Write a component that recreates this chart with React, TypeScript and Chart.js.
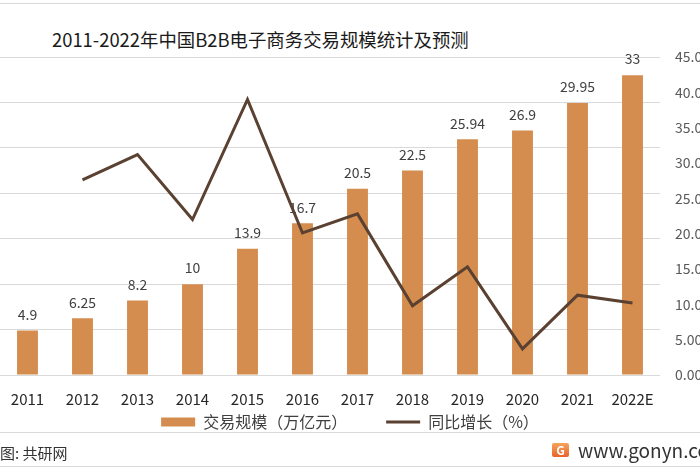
import { useEffect, useRef } from 'react';
import { Chart, registerables } from 'chart.js';

Chart.register(...registerables);

const years = ['2011', '2012', '2013', '2014', '2015', '2016', '2017', '2018', '2019', '2020', '2021', '2022E'];
const tradeScale = [4.9, 6.25, 8.2, 10, 13.9, 16.7, 20.5, 22.5, 25.94, 26.9, 29.95, 33];
const growthRate = [null, 27.6, 31.2, 22.0, 39.0, 20.1, 22.8, 9.8, 15.3, 3.7, 11.3, 10.2];
const barLabelTexts = ['4.9', '6.25', '8.2', '10', '13.9', '16.7', '20.5', '22.5', '25.94', '26.9', '29.95', '33'];

const FONT = "'Noto Sans CJK SC', 'Noto Sans', sans-serif";
const BAR = '#D48D4E';
const LINE = '#5A4131';

const barLabels = {
  id: 'barLabels',
  afterDatasetDraw(chart: any, args: any) {
    if (args.index !== 0) return;
    const ctx = chart.ctx;
    ctx.save();
    ctx.font = `14px ${FONT}`;
    ctx.fillStyle = '#404040';
    ctx.textAlign = 'center';
    ctx.textBaseline = 'middle';
    args.meta.data.forEach((el: any, i: number) => {
      ctx.fillText(barLabelTexts[i], el.x, el.y - 16);
    });
    ctx.restore();
  },
};

export default function App() {
  const ref = useRef<HTMLCanvasElement>(null);

  useEffect(() => {
    document.body.style.margin = '0';
    Chart.defaults.font.family = FONT;
    const chart = new Chart(ref.current!, {
      type: 'bar',
      data: {
        labels: years,
        datasets: [
          {
            type: 'bar',
            label: '交易规模（万亿元）',
            data: tradeScale,
            backgroundColor: BAR,
            borderWidth: 0,
            yAxisID: 'y',
            order: 2,
            barPercentage: 0.38,
            categoryPercentage: 1,
            pointStyle: 'rect',
          } as any,
          {
            type: 'line',
            label: '同比增长（%）',
            data: growthRate,
            borderColor: LINE,
            backgroundColor: LINE,
            borderWidth: 3,
            pointRadius: 0,
            pointHoverRadius: 0,
            tension: 0,
            yAxisID: 'y1',
            order: 1,
            pointStyle: 'line',
          } as any,
        ],
      },
      options: {
        animation: false,
        responsive: false,
        maintainAspectRatio: false,
        layout: { padding: { top: 57, left: 0, right: 0, bottom: 30 } },
        plugins: {
          legend: {
            position: 'bottom',
            labels: {
              usePointStyle: true,
              pointStyleWidth: 34,
              boxHeight: 9,
              padding: 39,
              color: '#404040',
              font: { size: 16, family: FONT },
              sort: (a: any, b: any) => a.datasetIndex - b.datasetIndex,
            },
          },
          tooltip: { enabled: false },
          title: { display: false },
        },
        scales: {
          x: {
            grid: { display: false, drawTicks: false },
            border: { display: false },
            ticks: { mirror: true, padding: -33, color: '#262626', font: { size: 15, family: FONT } },
            afterFit: (s: any) => {
              s.height = 0;
            },
          },
          y: {
            position: 'left',
            min: 0,
            max: 35,
            ticks: { display: false, stepSize: 5 },
            grid: { color: '#d9d9d9', drawTicks: false, lineWidth: 1 },
            border: { display: false },
          },
          y1: {
            position: 'right',
            min: 0,
            max: 45,
            ticks: {
              stepSize: 5,
              padding: 15,
              color: '#595959',
              font: { size: 14, family: FONT },
              callback: (v: any) => Number(v).toFixed(2) + '%',
            },
            grid: { display: false, drawTicks: false },
            border: { display: false },
            afterFit: (s: any) => {
              s.width = 40;
            },
          },
        },
      } as any,
      plugins: [barLabels],
    });
    return () => chart.destroy();
  }, []);

  const hr = (top: number) => (
    <div style={{ position: 'absolute', left: 0, top, width: 700, height: 1, background: '#d9d9d9' }} />
  );

  return (
    <div
      style={{
        position: 'absolute',
        left: 0,
        top: 0,
        width: 700,
        height: 470,
        overflow: 'hidden',
        background: '#fff',
        fontFamily: FONT,
      }}
    >
      {hr(3)}
      <div
        style={{
          position: 'absolute',
          left: 52,
          top: 27,
          fontSize: 18.4,
          lineHeight: '24px',
          color: '#1a1a1a',
          whiteSpace: 'nowrap',
        }}
      >
        2011-2022年中国B2B电子商务交易规模统计及预测
      </div>
      <canvas ref={ref} width={700} height={470} style={{ position: 'absolute', left: 0, top: 0, display: 'block' }} />
      {hr(432)}
      {hr(466)}
      <div
        style={{
          position: 'absolute',
          left: 0,
          top: 442,
          fontSize: 15,
          lineHeight: '22px',
          color: '#333',
          whiteSpace: 'nowrap',
        }}
      >
        图: 共研网
      </div>
      <div
        style={{
          position: 'absolute',
          left: 552,
          top: 443,
          width: 17,
          height: 14,
          borderRadius: 2,
          background: 'linear-gradient(180deg, #f6a45c 0%, #e8632c 100%)',
          color: '#fff',
          fontSize: 12,
          fontWeight: 700,
          lineHeight: '14px',
          textAlign: 'center',
          fontFamily: FONT,
        }}
      >
        G
      </div>
      <div
        style={{
          position: 'absolute',
          left: 578,
          top: 437,
          fontSize: 19,
          lineHeight: '26px',
          color: '#333',
          whiteSpace: 'nowrap',
        }}
      >
        www.gonyn.com
      </div>
    </div>
  );
}
